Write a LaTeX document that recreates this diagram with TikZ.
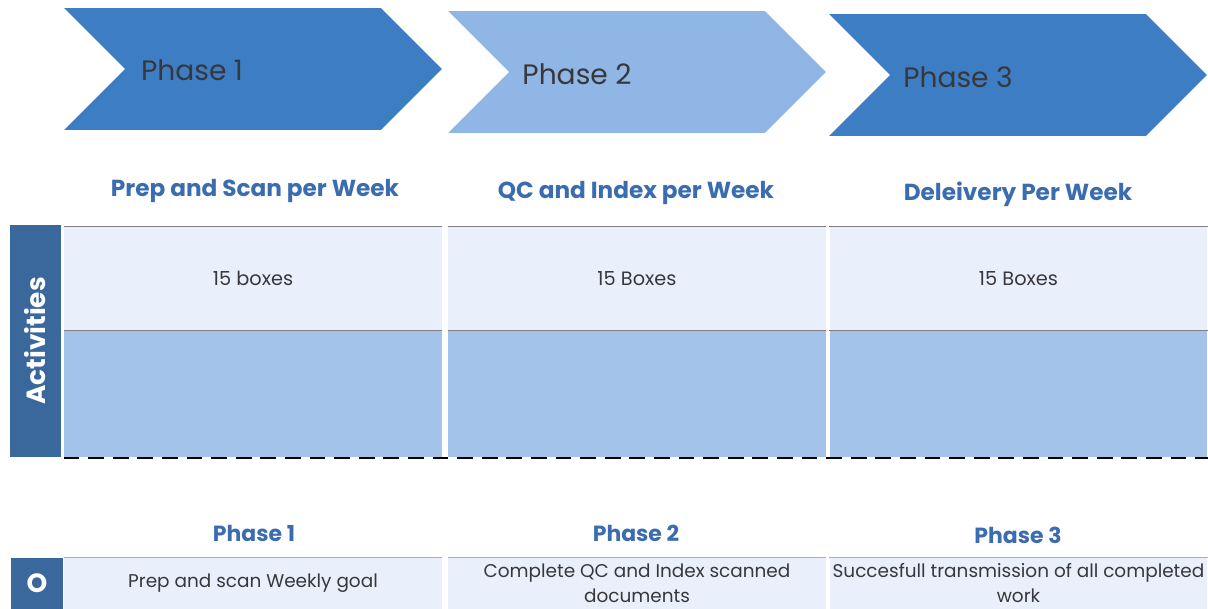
\documentclass[tikz,border=0pt]{standalone}
\usepackage{fontspec}
\setmainfont{Poppins}
\usetikzlibrary{shapes.symbols,positioning}
\definecolor{phdark}{RGB}{61,125,196}
\definecolor{phlight}{RGB}{143,182,228}
\definecolor{barblue}{RGB}{58,104,156}
\definecolor{headblue}{RGB}{59,108,176}
\definecolor{pale}{RGB}{233,240,251}
\definecolor{midblue}{RGB}{163,195,234}
\definecolor{ink}{RGB}{55,55,60}
\begin{document}
\begin{tikzpicture}[x=0.02cm,y=-0.02cm,font=\normalsize]
\tikzset{chev/.style={signal,signal from=west,signal to=east,signal pointer angle=90,minimum width=7.56cm,minimum height=2.44cm,inner sep=0pt,draw=none},
  chevtxt/.style={text=ink,font=\fontsize{16}{18}\selectfont},
  head/.style={text=headblue,font=\bfseries\fontsize{13.2}{15}\selectfont},
  cell/.style={minimum width=7.56cm,inner sep=0pt,text=ink,font=\fontsize{11}{13}\selectfont,align=center},
  toprow/.style={cell,fill=pale,minimum height=2.06cm},
  lowrow/.style={cell,fill=midblue,minimum height=2.54cm},
  goal/.style={cell,fill=pale,minimum height=1.02cm,font=\fontsize{10.5}{14}\selectfont},
  sidebar/.style={fill=barblue,text=white,inner sep=0pt,font=\bfseries\fontsize{15}{18}\selectfont}}
\useasboundingbox (0,0) rectangle (1208,609);
% phase chevrons
\node[chev,fill=phdark] (c1) at (253,69) {};
\node[chev,fill=phlight] (c2) at (637,72) {};
\node[chev,fill=phdark] (c3) at (1018,75) {};
\node[chevtxt] (t1) at (192,70) {Phase 1};
\node[chevtxt] (t2) at (577,74) {Phase 2};
\node[chevtxt] (t3) at (958,77) {Phase 3};
% column heads
\node[head] (h1) at (255,191) {Prep and Scan per Week};
\node[head] (h2) at (636,193) {QC and Index per Week};
\node[head] (h3) at (1018,194) {Deleivery Per Week};
% activities table
\node[sidebar,minimum width=1.02cm,minimum height=4.64cm] (act) at (35.5,341) {\rotatebox{90}{Activities}};
\node[toprow] (r1a) at (253,278.5) {15 boxes};
\node[toprow] (r1b) at (637,278.5) {15 Boxes};
\node[toprow] (r1c) at (1018.5,278.5) {15 Boxes};
\node[lowrow] (r2a) at (253,394) {};
\node[lowrow] (r2b) at (637,394) {};
\node[lowrow] (r2c) at (1018.5,394) {};
\draw[gray] (r1a.north west)--(r1a.north east);\draw[gray] (r1b.north west)--(r1b.north east);\draw[gray] (r1c.north west)--(r1c.north east);
\draw[gray] (r2a.north west)--(r2a.north east);\draw[gray] (r2b.north west)--(r2b.north east);\draw[gray] (r2c.north west)--(r2c.north east);
\draw[thick,dashed,dash pattern=on 9pt off 5pt] (r2a.south west)--(r2c.south east);
% weekly goals
\node[head,font=\bfseries\fontsize{12.5}{14}\selectfont] (p1) at (254,533) {Phase 1};
\node[head,font=\bfseries\fontsize{12.5}{14}\selectfont] (p2) at (636,533) {Phase 2};
\node[head,font=\bfseries\fontsize{12.5}{14}\selectfont] (p3) at (1018,535) {Phase 3};
\node[sidebar,minimum width=1.04cm,minimum height=1.02cm] (obj) at (37,583.5) {O};
\node[goal] (g1) at (253,583.5) {Prep and scan Weekly goal};
\node[goal] (g2) at (637,583) {Complete QC and Index scanned\\documents};
\node[goal] (g3) at (1018.5,583) {Succesfull transmission of all completed\\work};
\draw[phlight] (g1.north west)--(g1.north east);\draw[phlight] (g2.north west)--(g2.north east);\draw[phlight] (g3.north west)--(g3.north east);
\end{tikzpicture}
\end{document}
